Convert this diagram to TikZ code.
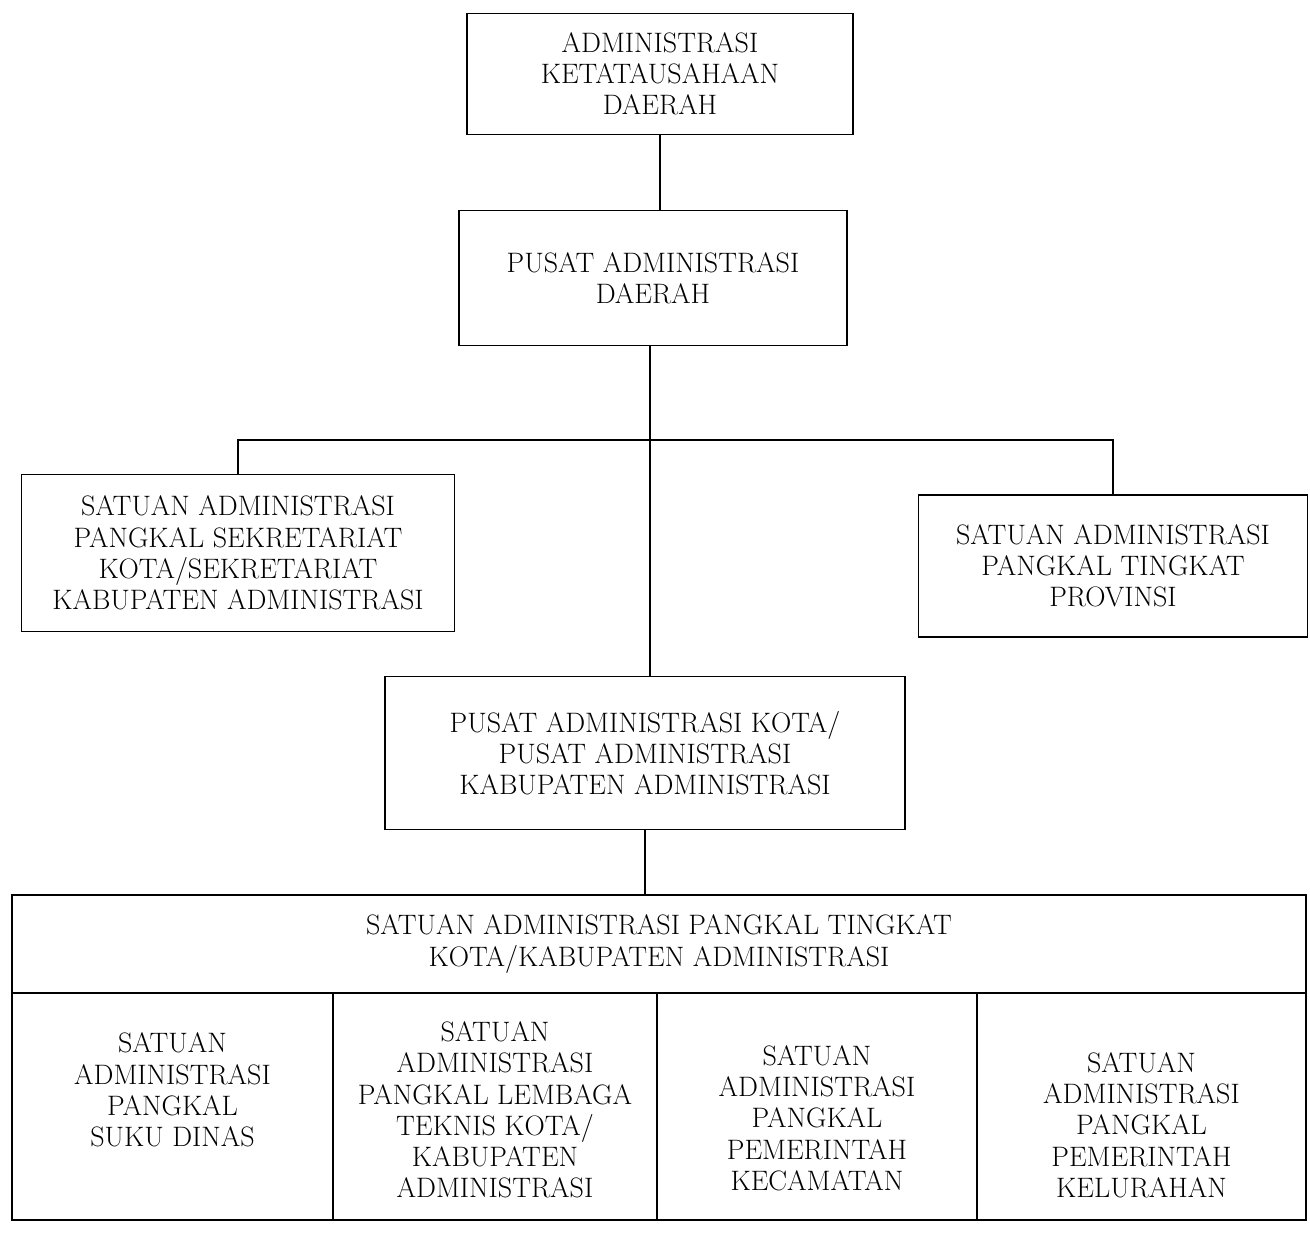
\documentclass[tikz,border=0pt]{standalone}
\usepackage{tikz}
\usetikzlibrary{positioning}

\begin{document}
\begin{tikzpicture}[line width=1pt,
	kotak/.style={draw,align=center,inner sep=2pt,font=\fontsize{16}{17.8}\selectfont},
	sel/.style={align=center,inner sep=2pt,font=\fontsize{16}{17.8}\selectfont}]
	\useasboundingbox (0,0) rectangle (26.2,-24.74);
	\node[kotak,minimum width=7.72cm,minimum height=2.42cm] (adk) at (13.2,-1.48) {ADMINISTRASI\\KETATAUSAHAAN\\DAERAH};
	\node[kotak,minimum width=7.76cm,minimum height=2.7cm] (pad) at (13.06,-5.56) {PUSAT ADMINISTRASI\\DAERAH};
	\node[kotak,minimum width=8.66cm,minimum height=3.14cm] (sek) at (4.76,-11.06) {SATUAN ADMINISTRASI\\PANGKAL SEKRETARIAT\\KOTA/SEKRETARIAT\\KABUPATEN ADMINISTRASI};
	\node[kotak,minimum width=7.78cm,minimum height=2.84cm] (prov) at (22.26,-11.32) {SATUAN ADMINISTRASI\\PANGKAL TINGKAT\\PROVINSI};
	\node[kotak,minimum width=10.4cm,minimum height=3.06cm] (pak) at (12.9,-15.06) {PUSAT ADMINISTRASI KOTA/\\PUSAT ADMINISTRASI\\KABUPATEN ADMINISTRASI};
	\node[kotak,minimum width=25.88cm,minimum height=1.96cm] (sapk) at (13.18,-18.88) {SATUAN ADMINISTRASI PANGKAL TINGKAT\\KOTA/KABUPATEN ADMINISTRASI};
	% kolom bawah
	\coordinate (k0) at (0.24,-19.86);
	\coordinate (k1) at (6.66,-19.86);
	\coordinate (k2) at (13.14,-19.86);
	\coordinate (k3) at (19.54,-19.86);
	\coordinate (k4) at (26.12,-24.4);
	\draw (k0) rectangle (k4);
	\draw (k1) -- (k1 |- k4);
	\draw (k2) -- (k2 |- k4);
	\draw (k3) -- (k3 |- k4);
	\node[sel] (sd) at (3.45,-21.8) {SATUAN\\ADMINISTRASI\\PANGKAL\\SUKU DINAS};
	\node[sel] (lt) at (9.9,-22.2) {SATUAN\\ADMINISTRASI\\PANGKAL LEMBAGA\\TEKNIS KOTA/\\KABUPATEN\\ADMINISTRASI};
	\node[sel] (kec) at (16.34,-22.36) {SATUAN\\ADMINISTRASI\\PANGKAL\\PEMERINTAH\\KECAMATAN};
	\node[sel] (kel) at (22.83,-22.5) {SATUAN\\ADMINISTRASI\\PANGKAL\\PEMERINTAH\\KELURAHAN};
	% garis
	\coordinate (bus) at (13.0,-8.8);
	\draw (adk.south) -- (adk.south |- pad.north);
	\draw (bus |- pad.south) -- (bus |- pak.north);
	\draw (sek.north) |- (bus) -| (prov.north);
	\draw (pak.south) -- (pak.south |- sapk.north);
\end{tikzpicture}
\end{document}
